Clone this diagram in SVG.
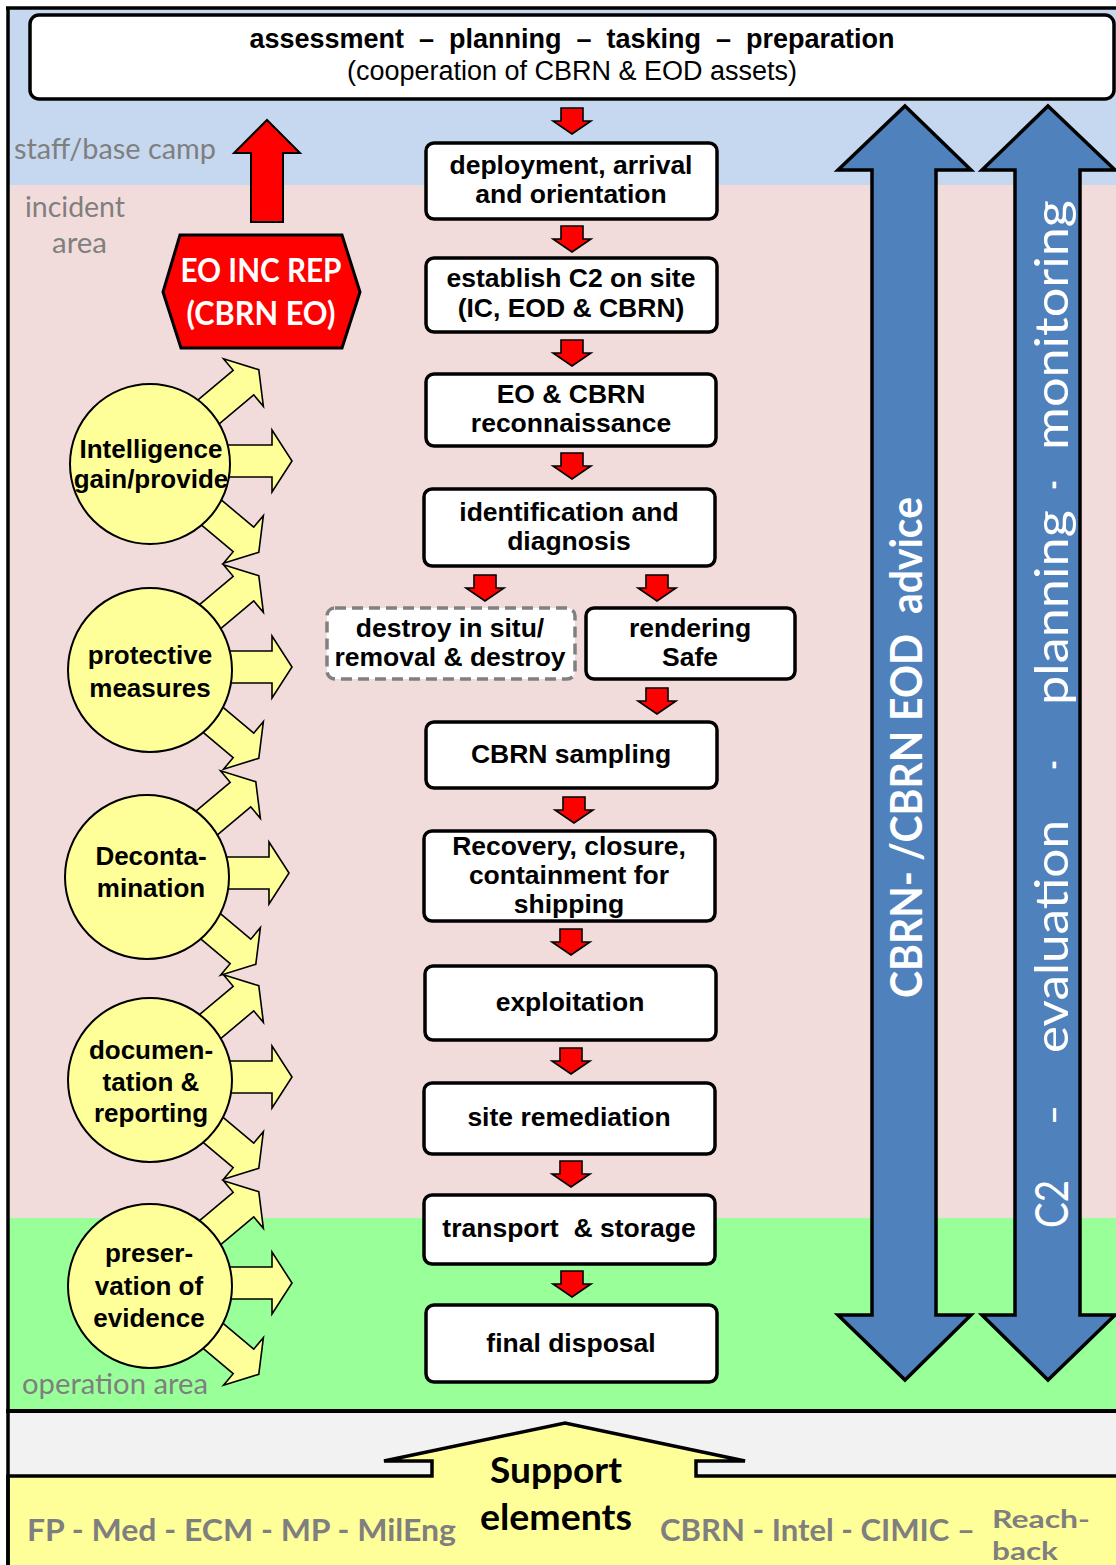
<svg xmlns="http://www.w3.org/2000/svg" xmlns:xlink="http://www.w3.org/1999/xlink" width="1116" height="1565" viewBox="0 0 1116 1565">
<style>
.bx{fill:#fff;stroke:#000;stroke-width:3.5}
.bxd{fill:#fff;stroke:#808080;stroke-width:3.5;stroke-dasharray:11 6}
.bt{font-family:"Liberation Sans",Arial,sans-serif;font-weight:bold;font-size:26.5px;text-anchor:middle;fill:#000}
.ct{font-family:"Liberation Sans",Arial,sans-serif;font-weight:bold;font-size:26px;text-anchor:middle;fill:#000}
.ra{fill:#ff0000;stroke:#000;stroke-width:1.6}
.ya{fill:#ffff99;stroke:#000;stroke-width:1.6}
.yc{fill:#ffff99;stroke:#000;stroke-width:2}
.lbl{font-family:Lato,"Open Sans",sans-serif;fill:#7f7f7f;font-size:29px}
.gb{font-family:Lato,"Open Sans",sans-serif;fill:#7f7f7f;font-size:30px;font-weight:bold}
.bl{fill:#4f81bd;stroke:#000;stroke-width:3.5}
.wt{font-family:Lato,"Open Sans",sans-serif;fill:#fff}
</style>
<defs>
<path id="rarr" class="ra" d="M-11,0 H11 V13 H19 L0,26 L-19,13 H-11 Z"/>
<path id="yarr" class="ya" d="M40,-16 H122 V-31 L142,0 L122,31 V16 H40 Z"/>
</defs>

<!-- background zones -->
<g id="zones">
<rect x="8" y="8" width="1110" height="177" fill="#c6d8ef"/>
<rect x="8" y="185" width="1110" height="1033" fill="#f2dcdb"/>
<rect x="8" y="1218" width="1110" height="193" fill="#99ff99"/>
<rect x="8" y="1411" width="1110" height="70" fill="#f2f2f2"/>
<text class="lbl" x="14" y="159" textLength="202" lengthAdjust="spacingAndGlyphs">staff/base camp</text>
<text class="lbl" x="25" y="217" textLength="100" lengthAdjust="spacingAndGlyphs">incident</text>
<text class="lbl" x="52" y="253" textLength="55" lengthAdjust="spacingAndGlyphs">area</text>
<text class="lbl" x="22" y="1394" textLength="186" lengthAdjust="spacingAndGlyphs">operation area</text>
</g>

<!-- support elements -->
<g id="support">
<path d="M8,1476 H432 V1461 H384 L565,1423 L745,1461 H696 V1476 H1125 V1575 H8 Z" fill="#ffff99" stroke="#000" stroke-width="3.5"/>
<text x="556" y="1483" font-family="Lato,'Open Sans',sans-serif" font-weight="bold" font-size="37" text-anchor="middle" textLength="132" lengthAdjust="spacingAndGlyphs">Support</text>
<text x="556" y="1530" font-family="Lato,'Open Sans',sans-serif" font-weight="bold" font-size="37" text-anchor="middle" textLength="152" lengthAdjust="spacingAndGlyphs">elements</text>
<text class="gb" x="27" y="1541" textLength="429" lengthAdjust="spacingAndGlyphs">FP - Med - ECM - MP - MilEng</text>
<text class="gb" x="660" y="1541" textLength="315" lengthAdjust="spacingAndGlyphs">CBRN - Intel - CIMIC –</text>
<text class="gb" x="992" y="1528" style="font-size:25px" textLength="98" lengthAdjust="spacingAndGlyphs">Reach-</text>
<text class="gb" x="992" y="1560" style="font-size:25px" textLength="66" lengthAdjust="spacingAndGlyphs">back</text>
</g>

<!-- frame lines -->
<g id="frame" fill="none" stroke="#000">
<line x1="8" y1="7" x2="8" y2="1565" stroke-width="3.5"/>
<line x1="6" y1="8" x2="1116" y2="8" stroke-width="3.5"/>
<line x1="6" y1="1411" x2="1116" y2="1411" stroke-width="4"/>
</g>

<!-- top box -->
<g id="top">
<rect class="bx" x="30" y="15" width="1084" height="84" rx="9"/>
<text class="bt" x="572" y="48" xml:space="preserve" style="font-size:27px">assessment  –  planning  –  tasking  –  preparation</text>
<text x="572" y="80" font-family="'Liberation Sans',Arial,sans-serif" font-size="27" text-anchor="middle">(cooperation of CBRN &amp; EOD assets)</text>
</g>

<!-- blue double arrows -->
<g id="advice">
<polygon class="bl" points="905,106 971,170 936,170 936,1315 971,1315 905,1380 838,1315 872,1315 872,170 838,170"/>
<text class="wt" transform="translate(922,998) rotate(-90)" font-size="44" font-weight="bold" textLength="501" lengthAdjust="spacingAndGlyphs" xml:space="preserve">CBRN- /CBRN EOD  advice</text>
</g>
<g id="c2">
<polygon class="bl" points="1048,106 1115,170 1080,170 1080,1315 1115,1315 1048,1380 982,1315 1015,1315 1015,170 982,170"/>
<g transform="translate(1068,1228) rotate(-90)" class="wt" font-size="46">
<text x="0" y="0" textLength="48" lengthAdjust="spacingAndGlyphs">C2</text>
<text x="103" y="0" textLength="20" lengthAdjust="spacingAndGlyphs">–</text>
<text x="175" y="0" textLength="233" lengthAdjust="spacingAndGlyphs">evaluation</text>
<text x="458" y="0" textLength="10" lengthAdjust="spacingAndGlyphs">-</text>
<text x="523" y="0" textLength="195" lengthAdjust="spacingAndGlyphs">planning</text>
<text x="738" y="0" textLength="10" lengthAdjust="spacingAndGlyphs">-</text>
<text x="778" y="0" textLength="250" lengthAdjust="spacingAndGlyphs">monitoring</text>
</g>
</g>

<!-- red report -->
<g id="eo-inc-rep">
<polygon points="267,120 300,153 283,153 283,222 251,222 251,153 234,153" fill="#ff0000" stroke="#000" stroke-width="2"/>
<polygon points="180,235 342,235 360,292 342,348 181,348 163,292" fill="#ff0000" stroke="#000" stroke-width="3"/>
<text x="261" y="282" fill="#fff" font-family="Lato,'Open Sans',sans-serif" font-weight="bold" font-size="33" text-anchor="middle" textLength="161" lengthAdjust="spacingAndGlyphs">EO INC REP</text>
<text x="261" y="325" fill="#fff" font-family="Lato,'Open Sans',sans-serif" font-weight="bold" font-size="33" text-anchor="middle" textLength="149" lengthAdjust="spacingAndGlyphs">(CBRN EO)</text>
</g>

<!-- yellow circles -->
<g id="intelligence">
<use href="#yarr" transform="translate(150,461) rotate(-40)"/>
<use href="#yarr" transform="translate(150,461)"/>
<use href="#yarr" transform="translate(150,461) rotate(40)"/>
<circle class="yc" cx="150" cy="464" r="80"/>
<text class="ct" x="151" y="458">Intelligence</text>
<text class="ct" x="151" y="488">gain/provide</text>
</g>
<g id="protective">
<use href="#yarr" transform="translate(150,667) rotate(-40)"/>
<use href="#yarr" transform="translate(150,667)"/>
<use href="#yarr" transform="translate(150,667) rotate(40)"/>
<circle class="yc" cx="150" cy="670" r="82"/>
<text class="ct" x="150" y="664">protective</text>
<text class="ct" x="150" y="697">measures</text>
</g>
<g id="decontamination">
<use href="#yarr" transform="translate(147,873) rotate(-40)"/>
<use href="#yarr" transform="translate(147,873)"/>
<use href="#yarr" transform="translate(147,873) rotate(40)"/>
<circle class="yc" cx="147" cy="877" r="82"/>
<text class="ct" x="151" y="865">Deconta-</text>
<text class="ct" x="151" y="897">mination</text>
</g>
<g id="documentation">
<use href="#yarr" transform="translate(150,1077) rotate(-40)"/>
<use href="#yarr" transform="translate(150,1077)"/>
<use href="#yarr" transform="translate(150,1077) rotate(40)"/>
<circle class="yc" cx="150" cy="1080" r="82"/>
<text class="ct" x="151" y="1059">documen-</text>
<text class="ct" x="151" y="1091">tation &amp;</text>
<text class="ct" x="151" y="1122">reporting</text>
</g>
<g id="preservation">
<use href="#yarr" transform="translate(150,1283) rotate(-40)"/>
<use href="#yarr" transform="translate(150,1283)"/>
<use href="#yarr" transform="translate(150,1283) rotate(40)"/>
<circle class="yc" cx="150" cy="1286" r="82"/>
<text class="ct" x="149" y="1262">preser-</text>
<text class="ct" x="149" y="1295">vation of</text>
<text class="ct" x="149" y="1327">evidence</text>
</g>

<!-- connectors -->
<g id="connectors">
<use href="#rarr" x="572" y="108"/>
<use href="#rarr" x="572" y="226"/>
<use href="#rarr" x="572" y="340"/>
<use href="#rarr" x="572" y="453"/>
<use href="#rarr" x="485" y="575"/>
<use href="#rarr" x="657" y="575"/>
<use href="#rarr" x="657" y="688"/>
<use href="#rarr" x="574" y="797"/>
<use href="#rarr" x="571" y="929"/>
<use href="#rarr" x="571" y="1048"/>
<use href="#rarr" x="571" y="1161"/>
<use href="#rarr" x="572" y="1271"/>
</g>

<!-- process boxes -->
<g id="deployment"><rect class="bx" x="426" y="143" width="291" height="76" rx="8"/>
<text class="bt" x="571" y="174">deployment, arrival</text><text class="bt" x="571" y="203">and orientation</text></g>
<g id="establish-c2"><rect class="bx" x="426" y="258" width="291" height="74" rx="8"/>
<text class="bt" x="571" y="287">establish C2 on site</text><text class="bt" x="571" y="317">(IC, EOD &amp; CBRN)</text></g>
<g id="reconnaissance"><rect class="bx" x="426" y="374" width="290" height="72" rx="8"/>
<text class="bt" x="571" y="403">EO &amp; CBRN</text><text class="bt" x="571" y="432">reconnaissance</text></g>
<g id="identification"><rect class="bx" x="424" y="489" width="291" height="77" rx="8"/>
<text class="bt" x="569" y="521">identification and</text><text class="bt" x="569" y="550">diagnosis</text></g>
<g id="destroy"><rect class="bxd" x="327" y="608" width="248" height="71" rx="8"/>
<text class="bt" x="450" y="637">destroy in situ/</text><text class="bt" x="450" y="666">removal &amp; destroy</text></g>
<g id="rendering-safe"><rect class="bx" x="586" y="608" width="209" height="71" rx="8"/>
<text class="bt" x="690" y="637">rendering</text><text class="bt" x="690" y="666">Safe</text></g>
<g id="sampling"><rect class="bx" x="426" y="722" width="291" height="66" rx="8"/>
<text class="bt" x="571" y="763">CBRN sampling</text></g>
<g id="recovery"><rect class="bx" x="424" y="831" width="291" height="90" rx="8"/>
<text class="bt" x="569" y="855">Recovery, closure,</text><text class="bt" x="569" y="884">containment for</text><text class="bt" x="569" y="913">shipping</text></g>
<g id="exploitation"><rect class="bx" x="425" y="966" width="291" height="74" rx="8"/>
<text class="bt" x="570" y="1011">exploitation</text></g>
<g id="remediation"><rect class="bx" x="424" y="1083" width="291" height="71" rx="8"/>
<text class="bt" x="569" y="1126">site remediation</text></g>
<g id="transport"><rect class="bx" x="424" y="1195" width="291" height="69" rx="8"/>
<text class="bt" x="569" y="1237" xml:space="preserve">transport  &amp; storage</text></g>
<g id="final-disposal"><rect class="bx" x="426" y="1305" width="291" height="77" rx="8"/>
<text class="bt" x="571" y="1352">final disposal</text></g>
</svg>
